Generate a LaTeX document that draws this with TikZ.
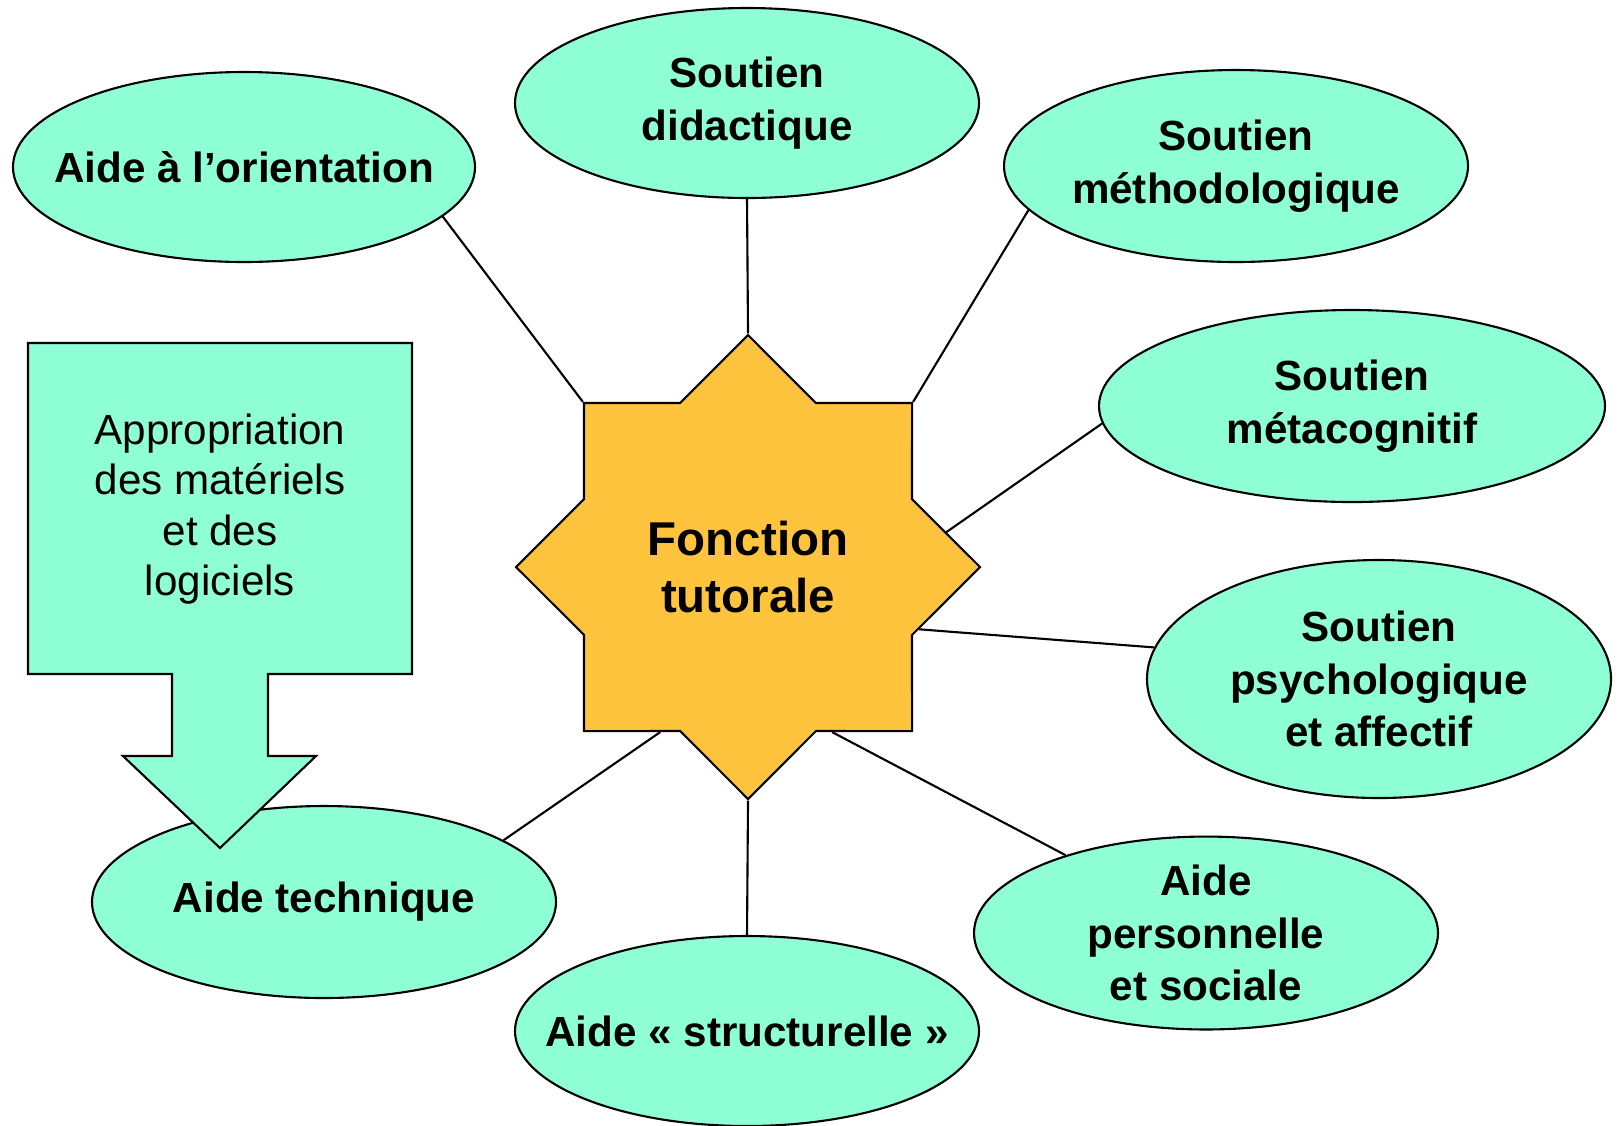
\documentclass[tikz,border=0pt]{standalone}
\usepackage{fontspec}
\setmainfont{Liberation Sans}
\usetikzlibrary{shapes.geometric}
\definecolor{bubblegreen}{RGB}{143,255,214}
\definecolor{staryellow}{RGB}{255,196,61}

\begin{document}
\begin{tikzpicture}[
  bubble/.style={ellipse,draw,fill=bubblegreen,line width=0.6pt,inner sep=0pt,align=center,
    font=\fontsize{12}{15}\selectfont\bfseries},
  wide/.style={inner xsep=-0.5cm},
  link/.style={line width=0.6pt}]
\useasboundingbox (0,0) rectangle (16.2,-11.25);

% centre
\node[star,star points=8,star point ratio=1.307,minimum size=4.64cm,draw,fill=staryellow,
  line width=0.6pt,inner sep=0pt,align=center,
  font=\fontsize{13.5}{16.2}\selectfont\bfseries] (fonc) at (7.48,-5.67) {Fonction\\tutorale};

% bulles
\node[bubble,wide,minimum width=4.62cm,minimum height=1.90cm] (orient) at (2.44,-1.67) {Aide à l’orientation};
\node[bubble,minimum width=4.64cm,minimum height=1.90cm] (didac) at (7.47,-1.03) {Soutien\\didactique};
\node[bubble,minimum width=4.64cm,minimum height=1.92cm] (methodo) at (12.36,-1.66) {Soutien\\méthodologique};
\node[bubble,minimum width=5.06cm,minimum height=1.92cm] (metacog) at (13.52,-4.06) {Soutien\\métacognitif};
\node[bubble,minimum width=4.64cm,minimum height=2.38cm] (psych) at (13.79,-6.79) {Soutien\\psychologique\\et affectif};
\node[bubble,minimum width=4.64cm,minimum height=1.92cm] (perso) at (12.06,-9.33) {Aide\\personnelle\\et sociale};
\node[bubble,wide,minimum width=4.64cm,minimum height=1.90cm] (struct) at (7.47,-10.31) {Aide «~structurelle~»};
\node[bubble,wide,minimum width=4.64cm,minimum height=1.92cm] (tech) at (3.24,-9.02) {Aide technique};

% liens
\draw[link] (fonc.135) -- (orient.-14);
\draw[link] (fonc.north) -- (didac.south);
\draw[link] (fonc.45) -- (methodo.192);
\draw[link] (fonc.10) -- (metacog.184);
\draw[link] (fonc.-20) -- (psych.172);
\draw[link] (fonc.-63) -- (perso.151);
\draw[link] (fonc.south) -- (struct.north);
\draw[link] (fonc.-118) -- (tech.19);

% fleche
\draw[fill=bubblegreen,line width=0.6pt] (0.28,-3.43) -- (4.12,-3.43) -- (4.12,-6.74)
  -- (2.68,-6.74) -- (2.68,-7.56) -- (3.16,-7.56) -- (2.20,-8.48) -- (1.23,-7.56)
  -- (1.72,-7.56) -- (1.72,-6.74) -- (0.28,-6.74) -- cycle;
\node[font=\fontsize{12}{14.4}\selectfont,align=center] (appro) at (2.20,-5.09)
  {Appropriation\\des matériels\\et des\\logiciels};
\end{tikzpicture}
\end{document}
